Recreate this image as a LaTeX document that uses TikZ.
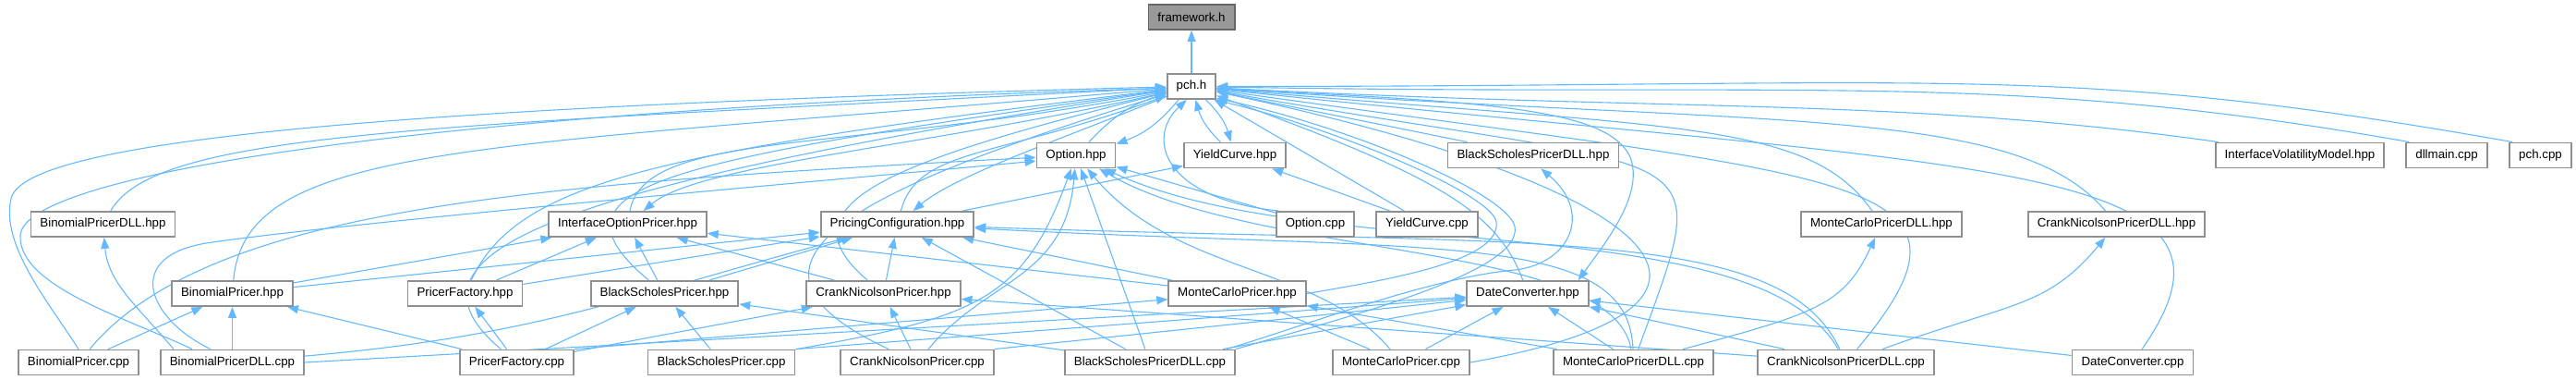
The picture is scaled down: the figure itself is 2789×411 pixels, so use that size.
\documentclass[tikz,border=0pt]{standalone}
\usepackage{xcolor}
\usepackage{fontspec}
\setmainfont{Liberation Sans}
\usepackage{tikz}
\usetikzlibrary{arrows.meta,positioning,backgrounds}
\definecolor{edgeblue}{HTML}{63B8FF}
\definecolor{boxline}{HTML}{8F8F8F}
\definecolor{rootfill}{HTML}{999999}
\definecolor{rootline}{HTML}{666666}

\begin{document}
\begin{tikzpicture}[x=0.5pt, y=0.5pt,
  every node/.style={font=\fontsize{6.65}{8}\selectfont},
  file/.style={rectangle, draw=boxline, fill=white, line width=0.9pt, minimum height=13.5pt, inner xsep=5pt, inner ysep=0pt, text=black},
  root/.style={file, fill=rootfill, draw=rootline},
  arrow/.style={-{Triangle[length=6pt,width=4.5pt]}, line width=0.55pt, draw=edgeblue}
]
\useasboundingbox (0,0) rectangle (2789,-411);

\node[root] (fw)        at (1290,-18.5)   {framework.h};
\node[file] (pch)       at (1290,-93.5)   {pch.h};

\node[file] (opthpp)    at (1165,-168)    {Option.hpp};
\node[file] (ychpp)     at (1337,-168)    {YieldCurve.hpp};
\node[file] (bsdllhpp)  at (1660,-168)    {BlackScholesPricerDLL.hpp};
\node[file] (ivm)       at (2490,-168)    {InterfaceVolatilityModel.hpp};
\node[file] (dllmain)   at (2649,-168)    {dllmain.cpp};
\node[file] (pchcpp)    at (2750.5,-168)  {pch.cpp};

\node[file] (bindllhpp) at (111.5,-242.5) {BinomialPricerDLL.hpp};
\node[file] (iop)       at (679.5,-242.5) {InterfaceOptionPricer.hpp};
\node[file] (pcfg)      at (971.5,-242.5) {PricingConfiguration.hpp};
\node[file] (optcpp)    at (1424,-242.5)  {Option.cpp};
\node[file] (yccpp)     at (1545,-242.5)  {YieldCurve.cpp};
\node[file] (mcdllhpp)  at (2037,-242.5)  {MonteCarloPricerDLL.hpp};
\node[file] (cndllhpp)  at (2291.5,-242.5) {CrankNicolsonPricerDLL.hpp};

\node[file] (binhpp)    at (251.5,-317.5) {BinomialPricer.hpp};
\node[file] (pfhpp)     at (503.5,-317.5) {PricerFactory.hpp};
\node[file] (bshpp)     at (719.5,-317.5) {BlackScholesPricer.hpp};
\node[file] (cnhpp)     at (956.5,-317.5) {CrankNicolsonPricer.hpp};
\node[file] (mchpp)     at (1339.5,-317.5) {MonteCarloPricer.hpp};
\node[file] (dchpp)     at (1654,-317.5)  {DateConverter.hpp};

\node[file] (bincpp)    at (85,-392)      {BinomialPricer.cpp};
\node[file] (bindllcpp) at (251.5,-392)   {BinomialPricerDLL.cpp};
\node[file] (pfcpp)     at (559.5,-392)   {PricerFactory.cpp};
\node[file] (bscpp)     at (781,-392)     {BlackScholesPricer.cpp};
\node[file] (cncpp)     at (993,-392)     {CrankNicolsonPricer.cpp};
\node[file] (bsdllcpp)  at (1245,-392)    {BlackScholesPricerDLL.cpp};
\node[file] (mccpp)     at (1517,-392)    {MonteCarloPricer.cpp};
\node[file] (mcdllcpp)  at (1768.5,-392)  {MonteCarloPricerDLL.cpp};
\node[file] (cndllcpp)  at (1998.5,-392)  {CrankNicolsonPricerDLL.cpp};
\node[file] (dccpp)     at (2309,-392)    {DateConverter.cpp};

\begin{scope}[on background layer]
\draw[arrow] (pch) -- (fw);
\draw[arrow] (opthpp) to[bend left=15] (pch);
\draw[arrow] (pch) to[bend left=15] (opthpp);
\draw[arrow] (ychpp) to[bend left=15] (pch);
\draw[arrow] (pch) to[bend left=15] (ychpp);
\draw[arrow] (pch.193) .. controls +(193:260) and +(40:80) .. (iop.40);
\draw[arrow] (pch.202) .. controls +(202:120) and +(40:60) .. (pcfg.40);
\draw[arrow] (pch.-5) .. controls (1600,-110) and (1740,-115) .. (1765,-170) .. controls (1780,-210) and (1740,-260) .. ([xshift=-6pt]dchpp.north east);

\draw[arrow] (bincpp.north) .. controls (55,-330) and (0,-265) .. (12,-215) .. controls (25,-150) and (450,-115) .. (pch.181);
\draw[arrow] ([xshift=17.5pt]bindllcpp.north west) .. controls (140,-345) and (20,-310) .. (22,-255) .. controls (24,-185) and (500,-118) .. (pch.184);
\draw[arrow] (bindllhpp.60) .. controls +(60:100) and +(183:800) .. (pch.183);
\draw[arrow] (binhpp.85) .. controls +(85:150) and +(185:750) .. (pch.185);
\draw[arrow] (pfhpp.65) .. controls +(65:120) and +(187:550) .. (pch.187);
\draw[arrow] (pfcpp.140) .. controls +(140:170) and +(189:650) .. (pch.189);
\draw[arrow] (bshpp.140) .. controls +(140:160) and +(188:550) .. (pch.188);
\draw[arrow] (iop.80) .. controls +(80:90) and +(191:350) .. (pch.191);
\draw[arrow] (cnhpp.140) .. controls +(140:130) and +(194:300) .. (pch.194);
\draw[arrow] (cncpp.155) .. controls +(155:220) and +(197:350) .. (pch.197);
\draw[arrow] (pcfg.75) .. controls +(75:70) and +(200:200) .. (pch.200);

\draw[arrow] (bsdllhpp) -- (pch);
\draw[arrow] ([xshift=2pt]ivm.north west) .. controls +(172:350) and +(-3:500) .. (pch.-3);
\draw[arrow] ([xshift=2pt]dllmain.north west) .. controls +(170:450) and +(-1:650) .. (pch.-1);
\draw[arrow] ([xshift=2pt]pchcpp.north west) .. controls +(170:500) and +(0:800) .. (pch.0);
\draw[arrow] (mcdllhpp.125) .. controls +(125:120) and +(-5:500) .. (pch.-5);
\draw[arrow] (cndllhpp.130) .. controls +(130:150) and +(-4:600) .. (pch.-4);
\draw[arrow] (dccpp.55) .. controls +(55:250) and +(-6:850) .. (pch.-6);
\draw[arrow] (cndllcpp.50) .. controls +(50:250) and +(-8:700) .. (pch.-8);
\draw[arrow] (mcdllcpp.70) .. controls +(70:250) and +(-10:550) .. (pch.-10);
\draw[arrow] (mccpp.east) .. controls +(10:350) and +(-12:500) .. (pch.-12);
\draw[arrow] (dchpp.110) .. controls +(110:80) and +(-20:250) .. (pch.-20);
\draw[arrow] (yccpp) -- (pch);
\draw[arrow] (optcpp.160) .. controls (1260,-215) and (1240,-150) .. (pch.-110);
\draw[arrow] (mchpp.east) .. controls (1520,-300) and (1625,-280) .. (1620,-240) .. controls (1615,-210) and (1450,-140) .. (pch.-30);
\draw[arrow] (bsdllcpp.north east) .. controls (1450,-345) and (1650,-295) .. (1640,-245) .. controls (1632,-210) and (1470,-140) .. (pch.-25);

\draw[arrow] (bincpp.50) .. controls +(50:200) and +(183:550) .. (opthpp.183);
\draw[arrow] ([xshift=27.5pt]bindllcpp.north west) .. controls (160,-345) and (130,-275) .. (230,-262) .. controls (400,-238) and (900,-195) .. (opthpp.188);
\draw[arrow] (cncpp.50) .. controls +(50:100) and +(-95:120) .. (opthpp.-95);
\draw[arrow] (bscpp.10) .. controls +(10:200) and +(-110:150) .. (opthpp.-110);
\draw[arrow] (bsdllcpp) -- (opthpp);
\draw[arrow] (mccpp.130) .. controls +(130:120) and +(-50:150) .. (opthpp.-50);
\draw[arrow] (mcdllcpp.100) .. controls +(100:120) and +(-30:200) .. (opthpp.-30);
\draw[arrow] (cndllcpp.120) .. controls +(120:180) and +(-25:250) .. (opthpp.-25);
\draw[arrow] (optcpp) -- (opthpp);

\draw[arrow] (pcfg) -- (ychpp);
\draw[arrow] (yccpp) -- (ychpp);
\draw[arrow] ([xshift=-5pt]bsdllcpp.north east) .. controls (1420,-350) and (1550,-300) .. (1640,-292) .. controls (1700,-285) and (1725,-230) .. (bsdllhpp.-60);
\draw[arrow] ([xshift=7.5pt]bindllcpp.north west) .. controls +(130:60) and +(-85:50) .. (bindllhpp.-85);
\draw[arrow] (mcdllcpp.15) .. controls +(15:150) and +(-115:80) .. (mcdllhpp.-115);
\draw[arrow] (cndllcpp.20) .. controls +(20:150) and +(-130:100) .. (cndllhpp.-130);

\draw[arrow] (binhpp) -- (iop);
\draw[arrow] (pfhpp) -- (iop);
\draw[arrow] (bshpp) -- (iop);
\draw[arrow] (cnhpp) -- (iop);
\draw[arrow] (mchpp) -- (iop);

\draw[arrow] (binhpp) -- (pcfg);
\draw[arrow] (pfhpp) -- (pcfg);
\draw[arrow] (bindllcpp.5) .. controls +(5:250) and +(195:250) .. (pcfg.195);
\draw[arrow] (bshpp) -- (pcfg);
\draw[arrow] (cnhpp) -- (pcfg);
\draw[arrow] (bsdllcpp) -- (pcfg);
\draw[arrow] (mchpp) -- (pcfg);
\draw[arrow] (mcdllcpp.92) .. controls +(92:130) and +(-3:500) .. (pcfg.-3);
\draw[arrow] (cndllcpp.115) .. controls +(115:150) and +(-2:600) .. (pcfg.-2);

\draw[arrow] (bincpp) -- (binhpp);
\draw[arrow] (bindllcpp) -- (binhpp);
\draw[arrow] (pfcpp) -- (binhpp);
\draw[arrow] (pfcpp) -- (pfhpp);
\draw[arrow] (pfcpp) -- (bshpp);
\draw[arrow] (bscpp) -- (bshpp);
\draw[arrow] (bsdllcpp) -- (bshpp);
\draw[arrow] (pfcpp) -- (cnhpp);
\draw[arrow] (cncpp) -- (cnhpp);
\draw[arrow] (cndllcpp) -- (cnhpp);
\draw[arrow] (pfcpp.north east) -- (mchpp);
\draw[arrow] (mccpp) -- (mchpp);
\draw[arrow] (mcdllcpp) -- (mchpp);

\draw[arrow] (bindllcpp.east) -- (dchpp);
\draw[arrow] (bscpp.north east) -- (dchpp);
\draw[arrow] (cncpp.north east) -- (dchpp);
\draw[arrow] (bsdllcpp) -- (dchpp);
\draw[arrow] (mccpp) -- (dchpp);
\draw[arrow] (mcdllcpp) -- (dchpp);
\draw[arrow] (cndllcpp) -- (dchpp);
\draw[arrow] (dccpp) -- (dchpp);
\end{scope}
\end{tikzpicture}
\end{document}
